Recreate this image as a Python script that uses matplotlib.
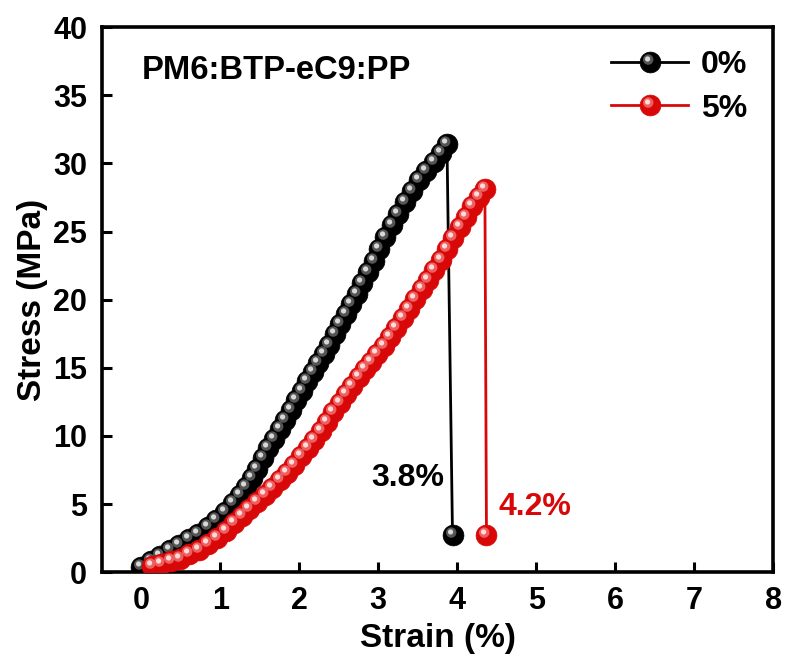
import numpy as np
import matplotlib
matplotlib.use('Agg')
import matplotlib.pyplot as plt
from matplotlib.path import Path
from matplotlib.legend_handler import HandlerTuple

plt.rcParams['font.family'] = ['Liberation Sans', 'DejaVu Sans']
plt.rcParams['font.weight'] = 'bold'

# stress-strain data, PM6:BTP-eC9:PP films
strain_0 = [0.00, 0.12, 0.24, 0.36, 0.48, 0.60, 0.72, 0.84, 0.95, 1.06,
            1.16, 1.25, 1.33, 1.40, 1.47, 1.54, 1.61, 1.68, 1.75, 1.82,
            1.89, 1.96, 2.03, 2.10, 2.17, 2.24, 2.31, 2.38, 2.45, 2.52,
            2.59, 2.66, 2.73, 2.80, 2.87, 2.94, 3.01, 3.09, 3.17, 3.25,
            3.34, 3.43, 3.52, 3.61, 3.70, 3.79, 3.87, 3.94]
stress_0 = [0.40, 0.80, 1.20, 1.60, 2.00, 2.40, 2.80, 3.30, 3.85, 4.45,
            5.05, 5.65, 6.25, 6.90, 7.60, 8.35, 9.10, 9.80, 10.50, 11.20,
            11.90, 12.60, 13.30, 14.00, 14.70, 15.35, 16.00, 16.70, 17.45, 18.20,
            18.95, 19.70, 20.45, 21.25, 22.05, 22.85, 23.70, 24.60, 25.45, 26.30,
            27.15, 28.00, 28.75, 29.45, 30.10, 30.75, 31.40, 2.70]

strain_5 = [0.13, 0.25, 0.37, 0.49, 0.61, 0.73, 0.85, 0.96, 1.07, 1.17,
            1.27, 1.37, 1.47, 1.57, 1.66, 1.75, 1.84, 1.93, 2.02, 2.11,
            2.19, 2.27, 2.35, 2.43, 2.51, 2.59, 2.67, 2.75, 2.83, 2.91,
            2.99, 3.07, 3.15, 3.23, 3.31, 3.39, 3.47, 3.55, 3.63, 3.71,
            3.79, 3.87, 3.95, 4.03, 4.11, 4.19, 4.27, 4.35, 4.37]
stress_5 = [0.45, 0.60, 0.80, 1.00, 1.30, 1.65, 2.05, 2.50, 3.05, 3.60,
            4.15, 4.65, 5.15, 5.65, 6.20, 6.75, 7.30, 7.90, 8.50, 9.10,
            9.70, 10.35, 11.05, 11.75, 12.45, 13.10, 13.70, 14.30, 14.90, 15.45,
            16.00, 16.60, 17.25, 17.95, 18.65, 19.35, 20.05, 20.75, 21.45, 22.15,
            22.90, 23.70, 24.50, 25.30, 26.10, 26.90, 27.55, 28.10, 2.70]

labels = ['0%', '5%']
elongation = ['3.8%', '4.2%']

RED = '#d80808'


def dot(dx, dy, r):
    # circle marker shifted off-centre; the two corner moves keep the scale fixed
    c = Path.circle((dx, dy), r)
    verts = np.concatenate([[[-1.0, -1.0], [1.0, 1.0]], c.vertices])
    codes = np.concatenate([[Path.MOVETO, Path.MOVETO], c.codes])
    return Path(verts, codes)


SHADE = dot(-0.22, 0.28, 0.50)
GLOSS = dot(-0.28, 0.34, 0.25)


def sphere(ax, x, y, base, mid, hi, ms=15, z=2):
    line, = ax.plot(x, y, '-', color=base, lw=2, marker='o', ms=ms,
                    mfc=base, mec=base, mew=0.5, zorder=z)
    m1, = ax.plot(x, y, ls='none', marker=SHADE, ms=ms, mfc=mid, mec='none',
                  zorder=z + 0.1)
    m2, = ax.plot(x, y, ls='none', marker=GLOSS, ms=ms, mfc=hi, mec='none',
                  zorder=z + 0.2)
    return (line, m1, m2)


fig = plt.figure(figsize=(7.89, 6.63), dpi=100)
ax = fig.add_axes([0.129, 0.137, 0.851, 0.822])

h0 = sphere(ax, strain_0, stress_0, '#000000', '#555555', '#d8d8d8', z=2)
h5 = sphere(ax, strain_5, stress_5, RED, '#ee6060', '#ffdcdc', z=3)

ax.set_xlim(-0.5, 8)
ax.set_ylim(0, 40)
ax.set_xticks(range(0, 9))
ax.set_yticks(range(0, 41, 5))
ax.tick_params(direction='in', length=7, width=2.2, labelsize=22, pad=10.5)
ax.tick_params(axis='x', pad=10)
for lab in ax.get_xticklabels() + ax.get_yticklabels():
    lab.set_fontweight('bold')
for s in ax.spines.values():
    s.set_linewidth(2.6)

ax.set_xlabel('Strain (%)', fontsize=24, fontweight='bold', labelpad=5)
ax.set_ylabel('Stress (MPa)', fontsize=24, fontweight='bold', labelpad=4)

ax.text(0.06, 0.921, 'PM6:BTP-eC9:PP', transform=ax.transAxes,
        fontsize=23.6, fontweight='bold', va='center', ha='left')

ax.text(strain_0[-1] - 0.10, 6.9, elongation[0], fontsize=23,
        fontweight='bold', ha='right', va='center', color='black')
ax.text(strain_5[-1] + 0.15, 4.8, elongation[1], fontsize=23,
        fontweight='bold', ha='left', va='center', color=RED)

ax.legend([h0, h5], labels, handler_map={tuple: HandlerTuple(ndivide=1)},
          loc='upper right', bbox_to_anchor=(0.985, 0.987), frameon=False,
          handlelength=2.4, handletextpad=0.4, labelspacing=0.42,
          borderaxespad=0.2, borderpad=0.3,
          prop={'weight': 'bold', 'size': 23})

fig.savefig('out.png', dpi=100)
